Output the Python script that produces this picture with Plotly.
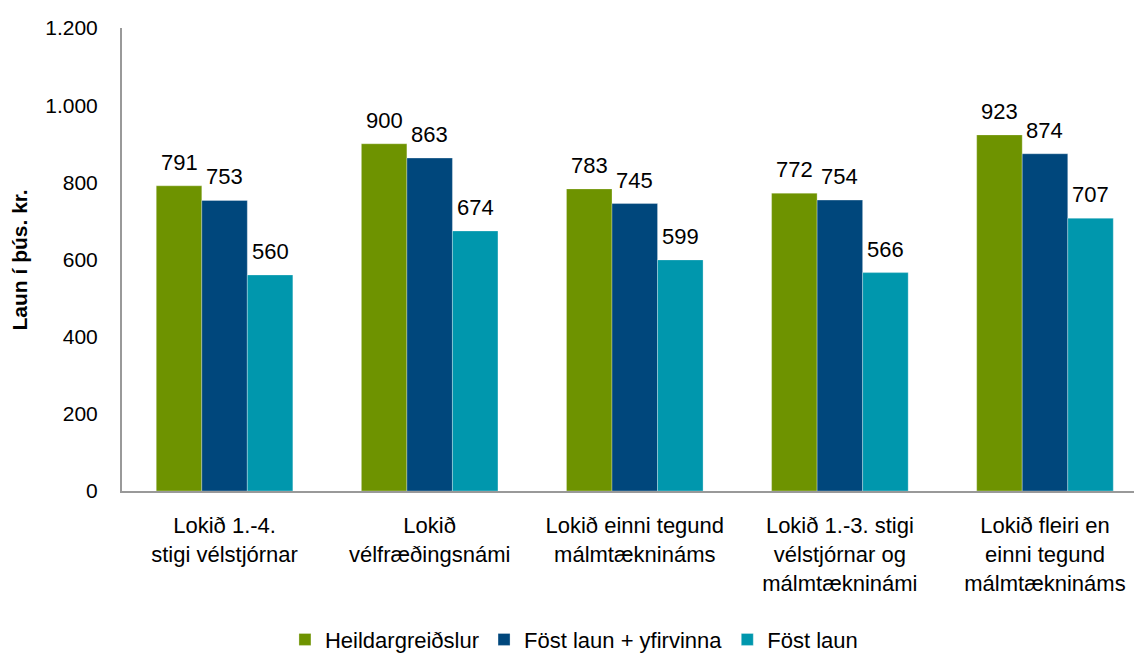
import plotly.graph_objects as go

categories = [
    "Lokið 1.-4.<br>stigi vélstjórnar",
    "Lokið<br>vélfræðingsnámi",
    "Lokið einni tegund<br>málmtæknináms",
    "Lokið 1.-3. stigi<br>vélstjórnar og<br>málmtækninámi",
    "Lokið fleiri en<br>einni tegund<br>málmtæknináms",
]
series_names = ["Heildargreiðslur", "Föst laun + yfirvinna", "Föst laun"]
heildar = [791, 900, 783, 772, 923]
fost_yfir = [753, 863, 745, 754, 874]
fost = [560, 674, 599, 566, 707]
colors = ["#6E9300", "#00477C", "#0097AD"]
y_title = "Laun í þús. kr."

FONT = "Liberation Sans, Arial, sans-serif"

fig = go.Figure()
all_vals = [heildar, fost_yfir, fost]
for name, vals, c in zip(series_names, all_vals, colors):
    fig.add_trace(go.Bar(
        x=list(range(len(categories))), y=vals, name=name,
        marker=dict(color=c, line=dict(color="rgba(255,255,255,0.6)", width=0.5)),
    ))

bw = 0.666 / 3
for si, vals in enumerate(all_vals):
    for ci, v in enumerate(vals):
        fig.add_annotation(
            x=ci + (si - 1) * bw, y=v, xref="x", yref="y",
            text=str(v), showarrow=False, yanchor="bottom", yshift=9,
            font=dict(family=FONT, size=22, color="#000"),
        )

fig.add_annotation(
    x=-0.1008, y=0.5, xref="paper", yref="paper", text="<b>" + y_title + "</b>",
    textangle=-90, showarrow=False, xanchor="center", yanchor="middle",
    font=dict(family=FONT, size=21, color="#000"),
)

fig.update_layout(
    width=1134, height=653,
    margin=dict(l=122, r=0, t=28, b=162, autoexpand=False),
    paper_bgcolor="white", plot_bgcolor="white",
    barmode="group", bargap=0.334, bargroupgap=0,
    font=dict(family=FONT, size=21, color="#000"),
    showlegend=True,
    legend=dict(orientation="h", x=0.4466, xanchor="center", y=-0.321, yanchor="middle",
                font=dict(family=FONT, size=22), itemwidth=30, traceorder="normal"),
    xaxis=dict(
        tickmode="array", tickvals=list(range(len(categories))), ticktext=categories,
        range=[-0.5, 4.434], showline=True, linecolor="#999", linewidth=2,
        ticks="", showgrid=False, zeroline=False, automargin=False,
        ticklabeloverflow="allow", ticklabelstandoff=14,
        tickfont=dict(family=FONT, size=22, color="#000"),
    ),
    yaxis=dict(
        range=[0, 1200], dtick=200, tickformat=",d",
        showline=True, linecolor="#999", linewidth=2, ticks="", showgrid=False,
        zeroline=False, automargin=False, ticklabelstandoff=18,
        tickfont=dict(family=FONT, size=21, color="#000"),
    ),
    separators=",.",
)

fig.write_html("out.html", config={"displayModeBar": False},
               post_script="document.body.style.margin='0';")
